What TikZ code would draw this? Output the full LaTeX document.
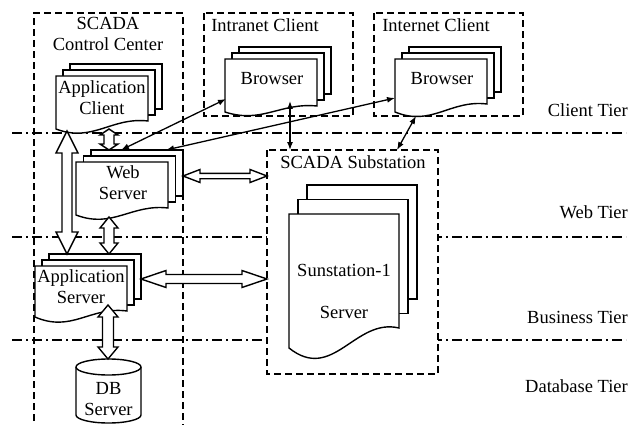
\documentclass[tikz,border=0pt]{standalone}
\usepackage{fontspec}
\setmainfont{Liberation Serif}
\usetikzlibrary{calc,arrows.meta}
\tikzset{
  sheet/.style={draw=black, fill=white, line width=1.4pt, line join=miter},
  frame/.style={draw=black, line width=1.3pt, dash pattern=on 7pt off 4pt},
  tierline/.style={draw=black, line width=1.2pt, dash pattern=on 10pt off 4pt on 2pt off 4pt},
  fat/.style={draw=black, fill=white, line width=1.4pt, line join=miter},
  thin/.style={draw=black, line width=1.3pt, {Latex[length=8pt,width=6pt]}-{Latex[length=8pt,width=6pt]}},
  txt/.style={font=\fontsize{18.5}{21}\selectfont, align=center, inner sep=0pt},
  tier/.style={txt, anchor=east},
}
% #1 name, #2 x0, #3 x1, #4 ytop, #5 y left bottom, #6 y right bottom, #7 dx, #8 dy, #9 wave
\newcommand\docstack[9]{%
  \draw[sheet] ({#2+2*#7},{#4-2*#8}) rectangle ({#3+2*#7},{#6-2*#8});
  \draw[sheet] ({#2+#7},{#4-#8}) rectangle ({#3+#7},{#6-#8});
  \draw[sheet] (#2,#4) -- (#3,#4) -- (#3,#6)
     .. controls ({#2+0.6*(#3-#2)},{#6-0.3*#9}) and ({#2+0.4*(#3-#2)},{#5+#9}) .. (#2,#5) -- cycle;
  \coordinate (#1) at ({(#2+#3)/2},{(#4+#5)/2});
}
% #1 from, #2 to, #3 head length, #4 head half width, #5 shaft half width
\newcommand\fatarrow[5]{%
  \coordinate (faA) at ($(#1)!#3!(#2)$);
  \coordinate (faB) at ($(#2)!#3!(#1)$);
  \draw[fat] (#1) -- ($(faA)!#4!90:(#2)$) -- ($(faA)!#5!90:(#2)$)
     -- ($(faB)!#5!-90:(#1)$) -- ($(faB)!#4!-90:(#1)$) -- (#2)
     -- ($(faB)!#4!90:(#1)$) -- ($(faB)!#5!90:(#1)$)
     -- ($(faA)!#5!-90:(#2)$) -- ($(faA)!#4!-90:(#2)$) -- cycle;
}
\begin{document}
\begin{tikzpicture}[x=1pt,y=-1pt]
\useasboundingbox (0,0) rectangle (631,425);
% tier lines
\coordinate (tl1) at (12,133); \coordinate (tr1) at (626,133);
\coordinate (tl2) at (12,237); \coordinate (tr2) at (626,237);
\coordinate (tl3) at (12,340); \coordinate (tr3) at (626,340);
\draw[tierline] (tl1) -- (tr1);
\draw[tierline] (tl2) -- (tr2);
\draw[tierline] (tl3) -- (tr3);
% frames
\draw[frame] (34,432) -- (34,13) -- (183,13) -- (183,432);
\draw[frame] (204,13) rectangle (353,116);
\draw[frame] (374,13) rectangle (523,116);
\draw[frame, fill=white] (267,150) rectangle (438,374);
% document stacks
\docstack{appclientdoc}{56}{148}{76}{129}{121}{7}{6}{14}
\docstack{intranetdoc}{225}{317}{59}{112}{106}{7}{6}{12}
\docstack{internetdoc}{395}{487}{59}{112}{104}{7}{6}{15}
\docstack{webdoc}{76}{168}{162}{215}{208}{7.5}{6}{14}
\docstack{appserverdoc}{35}{127}{266}{317}{311}{7}{6}{16}
\docstack{substationdoc}{289}{399}{214}{348}{328}{9}{14.5}{35}
% DB cylinder
\draw[sheet] (76,367) -- (76,415) arc[start angle=180, end angle=360, x radius=32.5pt, y radius=8pt]
   -- (141,367) arc[start angle=0, end angle=180, x radius=32.5pt, y radius=8pt] -- cycle;
\draw[sheet, fill=none] (76,367) arc[start angle=180, end angle=360, x radius=32.5pt, y radius=8pt];
% texts
\node[txt] (cclabel) at (108,34) {SCADA\\Control Center};
\node[txt] (intralabel) at (265,25) {Intranet Client};
\node[txt] (interlabel) at (436,25) {Internet Client};
\node[txt] (sublabel) at (353,162) {SCADA Substation};
\node[txt] (appclient) at (102,98) {Application\\Client};
\node[txt] (intrabrowser) at (272,79) {Browser};
\node[txt] (interbrowser) at (442,79) {Browser};
\node[txt] (webserver) at (123,183) {Web\\Server};
\node[txt] (appserver) at (81,287) {Application\\Server};
\node[txt] (subserver) at (344,291) {Sunstation-1\\[21pt]Server};
\node[txt] (db) at (108.5,399) {DB\\Server};
\node[tier] (t1) at (628,110) {Client Tier};
\node[tier] (t2) at (628,212) {Web Tier};
\node[tier] (t3) at (628,317) {Business Tier};
\node[tier] (t4) at (628,386) {Database Tier};
% fat arrows
\coordinate (f1a) at (109,129); \coordinate (f1b) at (109,150);
\coordinate (f2a) at (67,131);  \coordinate (f2b) at (67,254);
\coordinate (f3a) at (109,217); \coordinate (f3b) at (109,254);
\coordinate (f4a) at (108,305); \coordinate (f4b) at (108,359);
\coordinate (f5a) at (183,176); \coordinate (f5b) at (267,176);
\coordinate (f6a) at (141,279); \coordinate (f6b) at (267,279);
\fatarrow{f1a}{f1b}{6pt}{9pt}{5pt}
\fatarrow{f2a}{f2b}{22pt}{11pt}{5pt}
\fatarrow{f3a}{f3b}{11pt}{9pt}{5pt}
\fatarrow{f4a}{f4b}{12pt}{10pt}{5.5pt}
\fatarrow{f5a}{f5b}{17pt}{6.5pt}{2.7pt}
\fatarrow{f6a}{f6b}{25pt}{8.5pt}{4.5pt}
% thin arrows
\coordinate (t1a) at (226,99);  \coordinate (t1b) at (121,150);
\coordinate (t2a) at (395,98);  \coordinate (t2b) at (166,150);
\coordinate (t3a) at (290,101); \coordinate (t3b) at (290,150);
\coordinate (t4a) at (416,116); \coordinate (t4b) at (397,150);
\draw[thin] (t1a) -- (t1b);
\draw[thin] (t2a) -- (t2b);
\draw[thin] (t3a) -- (t3b);
\draw[thin] (t4a) -- (t4b);
\end{tikzpicture}
\end{document}
